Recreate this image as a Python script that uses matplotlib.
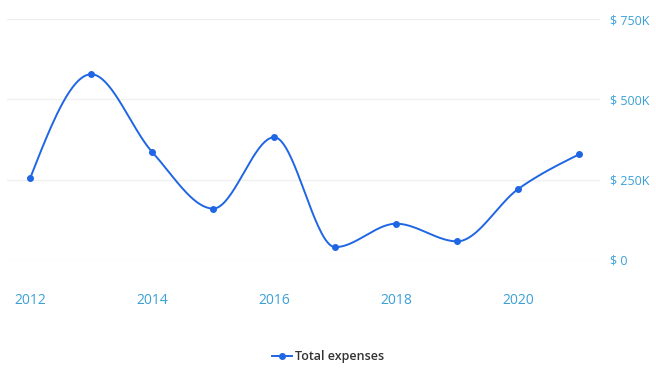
import numpy as np
import matplotlib.pyplot as plt
from matplotlib.lines import Line2D

years = [2012, 2013, 2014, 2015, 2016, 2017, 2018, 2019, 2020, 2021]
expenses = [255000, 578000, 336000, 160000, 382000, 40000, 113000, 58000, 221000, 329000]
y_ticks = [0, 250000, 500000, 750000]
y_labels = ["$ 0", "$ 250K", "$ 500K", "$ 750K"]
x_ticks = [2012, 2014, 2016, 2018, 2020]

LINE = "#1f66e5"
TICK = "#3aa0d6"


def monotone_curve(x, y, n=40):
    # monotone cubic (same slopes as d3 curveMonotoneX)
    x = np.asarray(x, float)
    y = np.asarray(y, float)
    h = np.diff(x)
    s = np.diff(y) / h
    m = np.zeros_like(y)
    for i in range(1, len(x) - 1):
        p = (s[i - 1] * h[i] + s[i] * h[i - 1]) / (h[i - 1] + h[i])
        m[i] = (np.sign(s[i - 1]) + np.sign(s[i])) * min(abs(s[i - 1]), abs(s[i]), 0.5 * abs(p))
    m[0] = (3 * s[0] - m[1]) / 2
    m[-1] = (3 * s[-1] - m[-2]) / 2
    xs, ys = [], []
    for i in range(len(x) - 1):
        t = np.linspace(0, 1, n)
        h00 = 2 * t**3 - 3 * t**2 + 1
        h10 = t**3 - 2 * t**2 + t
        h01 = -2 * t**3 + 3 * t**2
        h11 = t**3 - t**2
        xs.append(x[i] + t * h[i])
        ys.append(h00 * y[i] + h10 * h[i] * m[i] + h01 * y[i + 1] + h11 * h[i] * m[i + 1])
    return np.concatenate(xs), np.concatenate(ys)


plt.rcParams['font.family'] = ['Open Sans', 'DejaVu Sans']

fig = plt.figure(figsize=(6.56, 3.69), dpi=100)
ax = fig.add_axes([0.0107, 0.2954, 0.9039, 0.6531])

cx, cy = monotone_curve(years, expenses)
ax.plot(cx, cy, color=LINE, lw=1.4, clip_on=False, zorder=3)
ax.plot(years, expenses, 'o', color=LINE, ms=4, clip_on=False, zorder=4)

ax.set_xlim(2012 - 0.38, 2021 + 0.34)
ax.set_ylim(0, 750000)
ax.set_yticks(y_ticks)
ax.set_yticklabels(y_labels)
ax.set_xticks(x_ticks)
ax.set_xticklabels([str(v) for v in x_ticks])
ax.yaxis.tick_right()
ax.grid(axis='y', color='#f0f0f0', lw=1)
ax.set_axisbelow(True)
for sp in ax.spines.values():
    sp.set_visible(False)
ax.tick_params(axis='both', length=0, colors=TICK)
ax.tick_params(axis='x', pad=24, labelsize=10)
ax.tick_params(axis='y', pad=7, labelsize=9)
for lbl in ax.get_yticklabels():
    lbl.set_horizontalalignment('left')

handle = Line2D([], [], color=LINE, lw=1.4, marker='o', ms=4)
fig.legend([handle], ["Total expenses"], loc='center', bbox_to_anchor=(0.5, 0.033),
           frameon=False, handlelength=1.6, handletextpad=0.3,
           prop={'size': 9, 'weight': 'semibold'}, labelcolor='#333333')

fig.savefig("out.png", dpi=100, facecolor='white')
